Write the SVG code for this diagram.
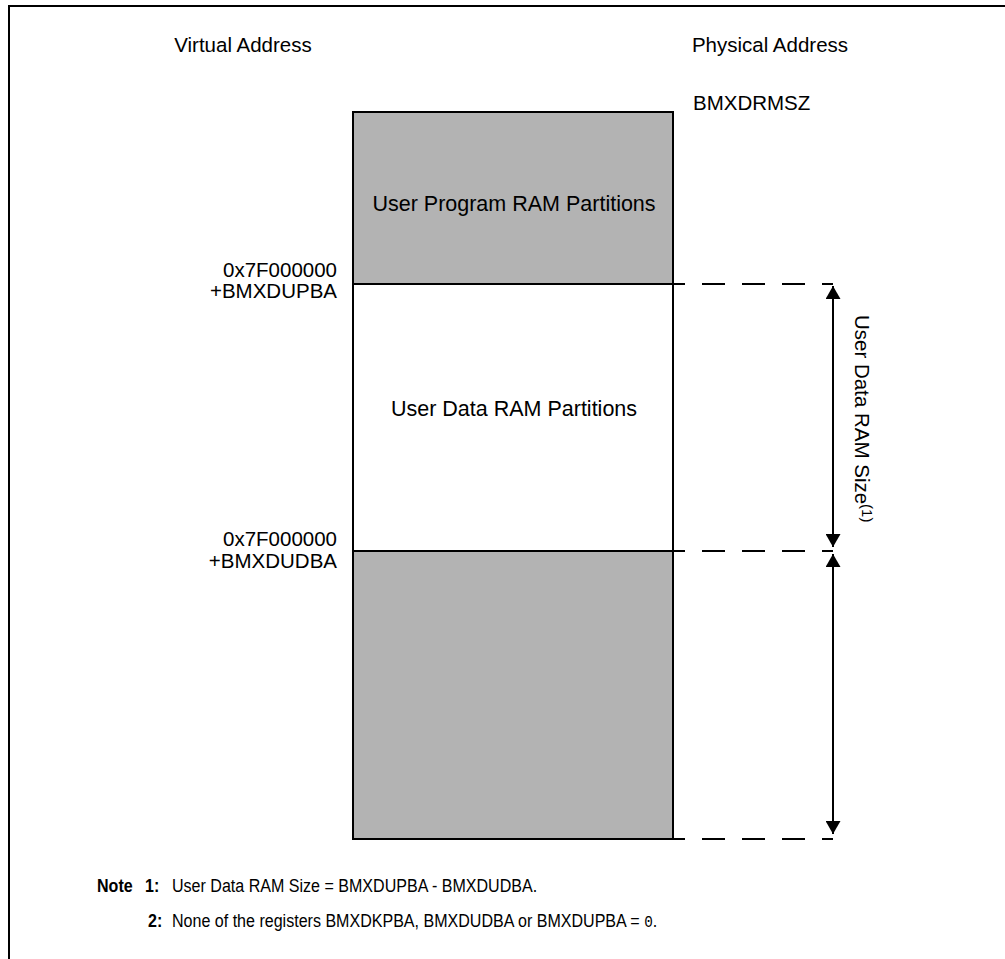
<svg xmlns="http://www.w3.org/2000/svg" width="1005" height="959" viewBox="0 0 1005 959">
<style>
.t{font-family:"Liberation Sans",Arial,sans-serif;font-size:20.5px;fill:#000}
.p{font-size:21.5px}
.n{font-family:"Liberation Sans",Arial,sans-serif;font-size:19px;fill:#000}
.b{font-weight:bold}
.gray{fill:#b3b3b3;stroke:#000;stroke-width:2}
.white{fill:#fff;stroke:#000;stroke-width:2}
.dash{stroke:#000;stroke-width:2;stroke-dasharray:23 17;stroke-dashoffset:11;fill:none}
.arr{stroke:#000;stroke-width:2;fill:none;marker-start:url(#ah);marker-end:url(#ah)}
</style>
<defs>
<marker id="ah" viewBox="0 0 13 15" refX="13" refY="7.5" markerWidth="13" markerHeight="15" markerUnits="userSpaceOnUse" orient="auto-start-reverse">
<path d="M0,0 L13,7.5 L0,15 Z" fill="#000"/>
</marker>
</defs>
<rect width="1005" height="959" fill="#fff"/>
<path d="M9,959 V6 H1005" fill="none" stroke="#000" stroke-width="2"/>
<g id="header-virtual"><text class="t" x="243" y="52" text-anchor="middle">Virtual Address</text></g>
<g id="header-physical"><text class="t" x="770" y="52" text-anchor="middle">Physical Address</text></g>
<g id="label-bmxdrmsz"><text class="t" x="693" y="110">BMXDRMSZ</text></g>
<g id="user-program-ram">
<rect class="gray" x="353" y="112" width="320" height="172"/>
<text class="t p" x="514" y="211" text-anchor="middle">User Program RAM Partitions</text>
</g>
<g id="user-data-ram">
<rect class="white" x="353" y="284" width="320" height="267"/>
<text class="t p" x="514" y="416" text-anchor="middle">User Data RAM Partitions</text>
</g>
<g id="lower-ram">
<rect class="gray" x="353" y="551" width="320" height="288"/>
</g>
<g id="addr-dupba">
<text class="t" x="337" y="277" text-anchor="end">0x7F000000</text>
<text class="t" x="337" y="298" text-anchor="end">+BMXDUPBA</text>
</g>
<g id="addr-dudba">
<text class="t" x="337" y="546" text-anchor="end">0x7F000000</text>
<text class="t" x="337" y="568" text-anchor="end">+BMXDUDBA</text>
</g>
<g id="connectors">
<line class="dash" x1="673" y1="284" x2="833" y2="284"/>
<line class="dash" x1="673" y1="551" x2="833" y2="551"/>
<line class="dash" x1="673" y1="839" x2="833" y2="839"/>
<line class="arr" x1="833" y1="286" x2="833" y2="547"/>
<line class="arr" x1="833" y1="554" x2="833" y2="834"/>
</g>
<g id="size-label">
<text class="t" transform="translate(855,315) rotate(90)">User Data RAM Size<tspan font-size="15" dy="-7">(1)</tspan></text>
</g>
<g id="notes">
<text class="n b" transform="translate(97,892) scale(0.845,1)">Note</text>
<text class="n b" transform="translate(145,892) scale(0.845,1)">1:</text>
<text class="n" transform="translate(172,892) scale(0.845,1)">User Data RAM Size = BMXDUPBA - BMXDUDBA.</text>
<text class="n b" transform="translate(148,927) scale(0.845,1)">2:</text>
<text class="n" transform="translate(172,927) scale(0.845,1)">None of the registers BMXDKPBA, BMXDUDBA or BMXDUPBA = <tspan font-family="'Liberation Mono',monospace" font-size="17">0</tspan>.</text>
</g>
</svg>
